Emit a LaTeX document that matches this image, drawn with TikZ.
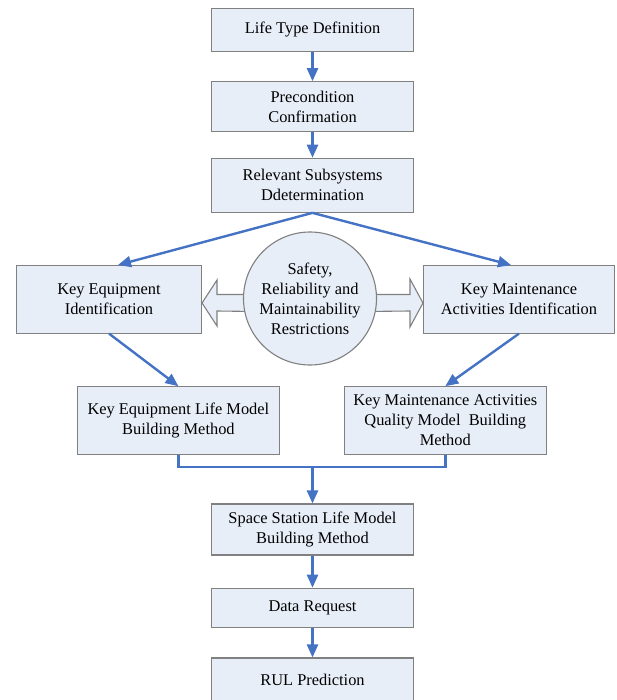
\documentclass[tikz,border=0pt]{standalone}
\usepackage{fontspec}
\setmainfont{Liberation Serif}
\usetikzlibrary{arrows.meta,backgrounds,calc}
\definecolor{boxfill}{RGB}{232,238,248}
\definecolor{boxline}{RGB}{128,128,128}
\definecolor{arrblue}{RGB}{68,114,196}
\tikzset{
  fbox/.style={draw=boxline,line width=1.1pt,fill=boxfill,align=center,inner sep=0pt,
    font=\fontsize{16.4}{20}\selectfont},
  flow/.style={draw=arrblue,line width=2.4pt,-{Triangle[width=11pt,length=13pt]}},
  link/.style={draw=arrblue,line width=2.4pt},
  hollow/.style={draw=boxline,line width=1.1pt,fill=boxfill},
}
\begin{document}
\begin{tikzpicture}[x=1pt,y=-1pt]
\useasboundingbox (0,0) rectangle (616,700);
\node[fbox,minimum width=201.5pt,minimum height=43.5pt] (b1) at (312.5,30) {Life Type Definition};
\node[fbox,minimum width=201.5pt,minimum height=49.5pt] (b2) at (312.5,106.5) {Precondition\\Confirmation};
\node[fbox,minimum width=201.5pt,minimum height=54pt] (b3) at (312.5,185.3) {Relevant Subsystems\\Ddetermination};
\node[fbox,minimum width=185pt,minimum height=67.5pt] (ke) at (109,299.3) {Key Equipment\\Identification};
\node[fbox,minimum width=191pt,minimum height=67.5pt] (km) at (519,299.3) {Key Maintenance\\Activities Identification};
\node[fbox,circle,minimum size=133pt] (sr) at (310,298.5) {Safety,\\Reliability and\\Maintainability\\Restrictions};
\node[fbox,minimum width=202pt,minimum height=67.5pt] (kelm) at (178.4,420.5) {Key Equipment Life Model\\Building Method};
\node[fbox,minimum width=201.5pt,minimum height=67.5pt] (kma) at (445.3,420.5) {Key Maintenance Activities\\Quality Model\ \ Building\\Method};
\node[fbox,minimum width=201.5pt,minimum height=51pt] (ss) at (312.5,529.5) {Space Station Life Model\\Building Method};
\node[fbox,minimum width=201.5pt,minimum height=39.5pt] (dr) at (312.5,608) {Data Request};
\node[fbox,minimum width=201.5pt,minimum height=44pt] (rul) at (312.5,680) {RUL Prediction};
\begin{scope}[on background layer]
\draw[hollow] (ke.east |- 0,303) -- (217,280) -- (217,294.5) -- ($(sr.center)+(-55,-4)$) -- ($(sr.center)+(-55,13)$) -- (217,311) -- (217,326) -- cycle;
\draw[hollow] (km.west |- 0,303) -- (410,279) -- (410,294.5) -- ($(sr.center)+(55,-4)$) -- ($(sr.center)+(55,13)$) -- (410,311) -- (410,327) -- cycle;
\end{scope}
\draw[flow] (b1) -- (b2);
\draw[flow] (b2) -- (b3);
\draw[flow] (b3.south) -- ($(ke.north)+(9,0)$);
\draw[flow] (b3.south) -- ($(km.north)+(-8,0)$);
\draw[flow] (ke.south) -- (kelm.north);
\draw[flow] (km.south) -- (kma.north);
\coordinate (j) at (312.5,467);
\draw[link] (kelm.south) |- (j) -| (kma.south);
\draw[flow] (j) -- (ss.north);
\draw[flow] (ss) -- (dr);
\draw[flow] (dr) -- (rul);
\end{tikzpicture}
\end{document}
